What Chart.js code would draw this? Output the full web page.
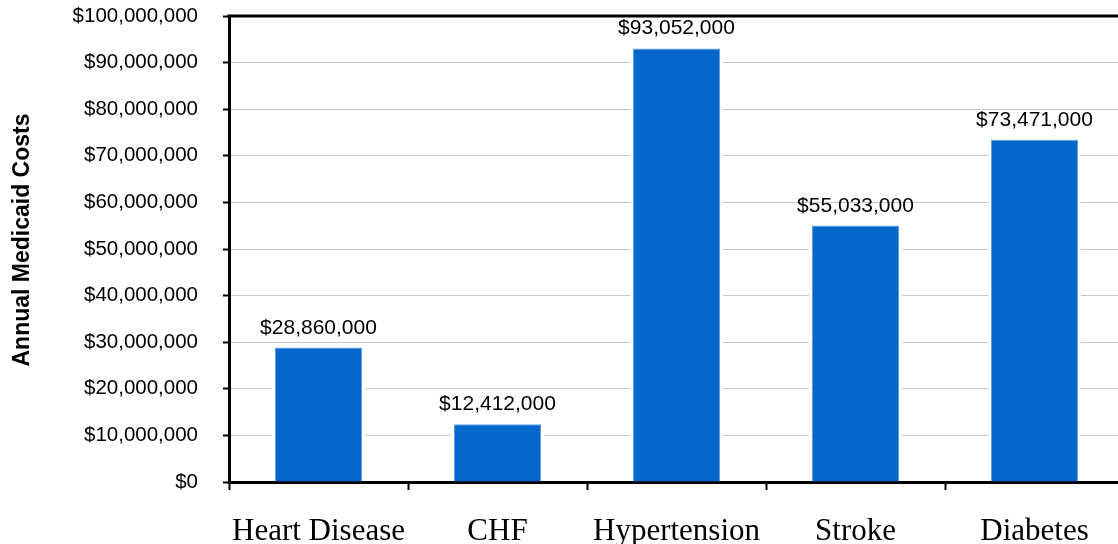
<!DOCTYPE html>
<html>
<head>
<meta charset="utf-8">
<script src="https://cdn.jsdelivr.net/npm/chart.js@4/dist/chart.umd.min.js"></script>
<style>
  html, body { margin: 0; padding: 0; background: #fff; overflow: hidden; }
  #wrap { width: 1124px; height: 544px; }
</style>
</head>
<body>
<div id="wrap"><canvas id="c" width="1124" height="544"></canvas></div>
<script>
// Annual Medicaid costs by condition
const categories = ['Heart Disease', 'CHF', 'Hypertension', 'Stroke', 'Diabetes'];
const costs = [28860000, 12412000, 93052000, 55033000, 73471000];
const yTicks = [0, 10000000, 20000000, 30000000, 40000000, 50000000, 60000000, 70000000, 80000000, 90000000, 100000000];
const yTitle = 'Annual Medicaid Costs';

const money = v => '$' + v.toLocaleString('en-US');
const SANS = '"Liberation Sans", Arial, sans-serif';
const SERIF = '"Liberation Serif", "Times New Roman", serif';

// white halo around each bar so the dotted grid stops short of it
const barHalo = {
  id: 'barHalo',
  beforeDatasetsDraw(chart) {
    const ctx = chart.ctx;
    const base = chart.chartArea.bottom - 2;
    ctx.save();
    ctx.fillStyle = '#fff';
    chart.getDatasetMeta(0).data.forEach(bar => {
      const w = bar.width;
      ctx.fillRect(bar.x - w / 2 - 3, bar.y - 3, w + 6, base - bar.y + 3);
    });
    ctx.restore();
  }
};

// value captions above bars, frame line on top and the rotated axis title
const barLabels = {
  id: 'barLabels',
  afterDatasetsDraw(chart) {
    const ctx = chart.ctx;
    const area = chart.chartArea;
    ctx.save();
    ctx.strokeStyle = '#000';
    ctx.lineWidth = 3;
    ctx.beginPath();
    ctx.moveTo(area.left - 1.5, area.top);
    ctx.lineTo(area.right + 2, area.top);
    ctx.stroke();

    ctx.fillStyle = '#000';
    ctx.font = '21px ' + SANS;
    ctx.textAlign = 'center';
    ctx.textBaseline = 'alphabetic';
    chart.getDatasetMeta(0).data.forEach((bar, i) => {
      ctx.fillText(money(costs[i]), bar.x, bar.y - 14);
    });

    ctx.translate(23, 240);
    ctx.rotate(-Math.PI / 2);
    ctx.font = 'bold 23px ' + SANS;
    ctx.textBaseline = 'middle';
    ctx.fillText(yTitle, 0, 0);
    ctx.restore();
  }
};

new Chart(document.getElementById('c'), {
  type: 'bar',
  data: {
    labels: categories,
    datasets: [{
      data: costs,
      backgroundColor: '#0566cc',
      borderColor: '#5f9fe4',
      borderWidth: 1,
      categoryPercentage: 1,
      barPercentage: 0.486
    }]
  },
  options: {
    responsive: false,
    animation: false,
    devicePixelRatio: 1,
    layout: { padding: { top: 16, right: 0, bottom: 0, left: 0 } },
    plugins: { legend: { display: false }, tooltip: { enabled: false } },
    scales: {
      x: {
        offset: true,
        grid: {
          offset: true,
          drawOnChartArea: false,
          drawTicks: true,
          tickLength: 8,
          tickColor: '#000',
          tickWidth: 2
        },
        border: { display: true, color: '#000', width: 3 },
        ticks: {
          color: '#000',
          padding: 23,
          maxRotation: 0,
          font: { family: SERIF, size: 31 }
        },
        afterFit(scale) { scale.height = 62; scale.paddingLeft = 0; scale.paddingRight = 0; }
      },
      y: {
        min: 0,
        max: 100000000,
        afterBuildTicks(scale) { scale.ticks = yTicks.map(v => ({ value: v })); },
        grid: {
          color: '#c6c6c6',
          lineWidth: 1,
          borderDash: [2, 1],
          drawTicks: true,
          tickLength: 6,
          tickColor: '#000',
          tickWidth: 2,
          tickBorderDash: []
        },
        border: { display: true, color: '#000', width: 3 },
        ticks: {
          color: '#000',
          padding: 25,
          font: { family: SANS, size: 20.5 },
          callback: v => money(v)
        },
        afterFit(scale) { scale.width = 229; scale.paddingTop = 0; scale.paddingBottom = 0; }
      }
    }
  },
  plugins: [barHalo, barLabels]
});
</script>
</body>
</html>
